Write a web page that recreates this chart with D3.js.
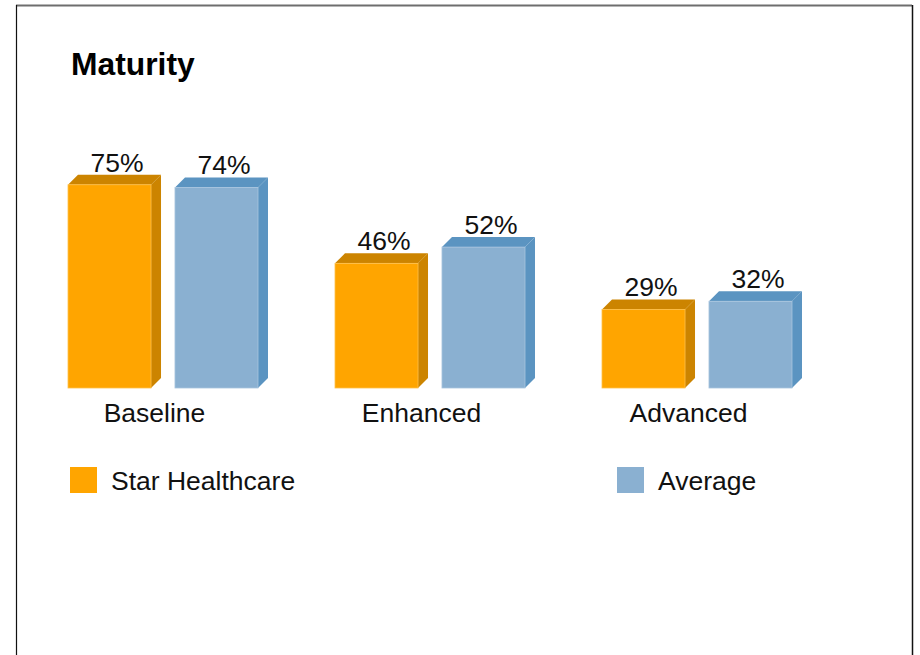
<!DOCTYPE html>
<html>
<head>
<meta charset="utf-8">
<script src="https://cdn.jsdelivr.net/npm/d3@7"></script>
<style>
  html, body { margin: 0; padding: 0; background: #fff; }
  text { font-family: "Liberation Sans", Arial, sans-serif; }
</style>
</head>
<body>
<svg id="chart" width="920" height="655"></svg>
<script>
const categories = ["Baseline", "Enhanced", "Advanced"];
const seriesNames = ["Star Healthcare", "Average"];
const starValues = [75, 46, 29];
const avgValues = [74, 52, 32];

const colors = {
  "Star Healthcare": { front: "#ffa500", top: "#cc8400", side: "#cc8400", edge: "#ffc04a" },
  "Average": { front: "#8ab0d1", top: "#5b94c1", side: "#5b94c1", edge: "#a9c5df" }
};

const svg = d3.select("#chart");
const W = 920, H = 655;
const depth = 10;
const baseY = 388;
const fs = "26.5px";

// frame round the chart (open at the bottom)
svg.append("line").attr("x1", 16).attr("x2", 912).attr("y1", 5.5).attr("y2", 5.5)
  .attr("stroke", "#6e6e6e").attr("stroke-width", 2);
svg.append("line").attr("x1", 16.5).attr("x2", 16.5).attr("y1", 5).attr("y2", H)
  .attr("stroke", "#111").attr("stroke-width", 1.2);
svg.append("line").attr("x1", 912.5).attr("x2", 912.5).attr("y1", 5).attr("y2", H)
  .attr("stroke", "#111").attr("stroke-width", 1.5);

svg.append("text")
  .attr("x", 71).attr("y", 75)
  .style("font-size", "31.8px").style("font-weight", "bold")
  .text("Maturity");

const x = d3.scaleBand().domain(categories).range([21, 822]);
const xs = d3.scaleBand().domain(seriesNames).range([-86.5, 103.5]).paddingInner(0.224);
const y = d3.scaleLinear().domain([0, 100]).range([baseY, baseY - 271]);

const rows = [];
categories.forEach((c, i) => {
  rows.push({ cat: c, series: "Star Healthcare", value: starValues[i] });
  rows.push({ cat: c, series: "Average", value: avgValues[i] });
});

const bw = xs.bandwidth();
const bars = svg.append("g").selectAll("g.bar").data(rows).join("g").attr("class", "bar");

bars.each(function(d) {
  const g = d3.select(this);
  const x0 = x(d.cat) + x.bandwidth() / 2 + xs(d.series);
  const x1 = x0 + bw;
  const yt = y(d.value);
  const c = colors[d.series];
  // side face
  g.append("path")
    .attr("d", `M${x1},${yt}L${x1 + depth},${yt - depth}L${x1 + depth},${baseY - depth}L${x1},${baseY}Z`)
    .attr("fill", c.side);
  // top face
  g.append("path")
    .attr("d", `M${x0},${yt}L${x0 + depth},${yt - depth}L${x1 + depth},${yt - depth}L${x1},${yt}Z`)
    .attr("fill", c.top);
  // front face
  g.append("rect")
    .attr("x", x0).attr("y", yt).attr("width", bw).attr("height", baseY - yt)
    .attr("fill", c.front).attr("stroke", c.edge).attr("stroke-width", 0.8);
  g.append("text")
    .attr("x", x0 + bw / 2 + depth / 2 + 2.5).attr("y", yt - depth - 3)
    .attr("text-anchor", "middle")
    .style("font-size", fs).attr("fill", "#111")
    .text(d.value + "%");
});

svg.append("g").selectAll("text").data(categories).join("text")
  .attr("x", d => x(d) + x.bandwidth() / 2)
  .attr("y", 422)
  .attr("text-anchor", "middle")
  .style("font-size", fs).attr("fill", "#111")
  .text(d => d);

const legendX = d3.scaleOrdinal().domain(seriesNames).range([70, 617]);
const leg = svg.append("g").selectAll("g").data(seriesNames).join("g")
  .attr("transform", d => `translate(${legendX(d)},467)`);
leg.append("rect").attr("width", 27).attr("height", 26).attr("fill", d => colors[d].front);
leg.append("text").attr("x", 41).attr("y", 22.5)
  .style("font-size", fs).attr("fill", "#111")
  .text(d => d);
</script>
</body>
</html>
